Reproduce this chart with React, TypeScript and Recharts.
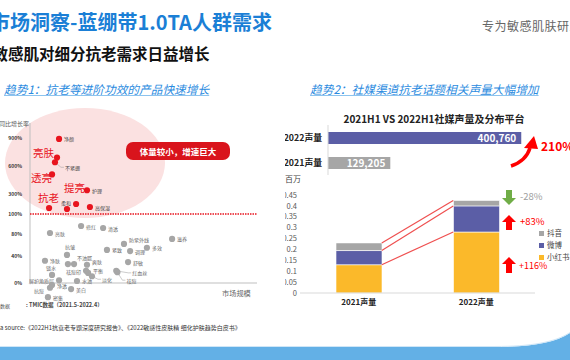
import React from 'react';
import {
  ScatterChart, Scatter, XAxis, YAxis, ReferenceLine,
  BarChart, Bar, LabelList, Cell, Legend,
} from 'recharts';

const FONT = '"Noto Sans CJK SC", "Noto Sans", sans-serif';

// ---------- Scatter: market size index vs YoY growth (%) ----------
const redNames = ['净颜', '亮肤', '不紧绷', '透亮', '护理', '抗老', '柔和', '', '高保湿'];
const redSize = [12.8, 11.9, 11.0, 9.7, 25.1, 8.4, 20.3, 16.3, 26.4];
const redGrowth = [890, 690, 640, 510, 340, 160, 200, 150, 170];

const grayNames = ['修红', '清透', '亮肤', '防紫外线', '滋养', '紧致', '调理', '多效', '抗皱', '不油腻', '', '净肤', '爽肤', '舒敏', '锁水', '祛痘印', '平衡', '淡化', '红血丝', '祛痘', '屏护角质层', '水油', '抗痘', '净透', '美白', '密集'];
const graySize = [22.5, 32.2, 8.8, 41.4, 62.6, 33.9, 44.1, 51.5, 16.3, 19.4, 16.7, 6.6, 25.1, 43.2, 9.7, 24.7, 25.6, 27.3, 38.0, 38.5, 12.8, 20.7, 8.8, 9.7, 18.1, 7.9];
const grayGrowth = [88, 86, 81, 62, 71, 51, 49, 55, 42, 28, 28, 33, 27, 31, 12, 18, 15, 10, 18, 16, 4, 3, -7, -3, -9, -21];

// broken growth axis: tick labels and their axis units
const growthTicks = [0, 40, 80, 100, 300, 600, 900];
const growthUnits = [0, 27, 49, 69, 89, 117, 145];

// ---------- Social media volume ----------
const volCats = ['2022声量', '2021声量'];
const volValues = [400760, 129205];
const volColors = ['#5b5ea6', '#a6a6a6'];

// ---------- Platform distribution (millions) ----------
const platCats = ['2021声量', '2022声量'];
const xhsVals = [0.13, 0.28];
const wbVals = [0.065, 0.12];
const dyVals = [0.035, 0.025];
const platTicks = [0, 0.05, 0.1, 0.15, 0.2, 0.25, 0.3, 0.35, 0.4, 0.45];

function toAxis(v: number): number {
  if (v <= 0) return (v / 40) * 27;
  for (let i = 1; i < growthTicks.length; i++) {
    if (v <= growthTicks[i]) {
      const t = (v - growthTicks[i - 1]) / (growthTicks[i] - growthTicks[i - 1]);
      return growthUnits[i - 1] + t * (growthUnits[i] - growthUnits[i - 1]);
    }
  }
  return growthUnits[growthUnits.length - 1];
}

const redData = redNames.map((n, i) => ({ name: n, x: redSize[i], g: redGrowth[i], ya: toAxis(redGrowth[i]) }));
const grayData = grayNames.map((n, i) => ({ name: n, x: graySize[i], g: grayGrowth[i], ya: toAxis(grayGrowth[i]) }));

const volData = volCats.map((c, i) => ({ cat: c, v: volValues[i] }));
const stackData = platCats.map((c, i) => ({ idx: i, cat: c, xhs: xhsVals[i], wb: wbVals[i], dy: dyVals[i] }));

const LBL: Record<string, { dx: number; dy: number; anchor?: string; lead?: boolean }> = {
  '不紧绷': { dx: 10, dy: 5, lead: true },
  '柔和': { dx: -5, dy: -2, anchor: 'end' },
  '防紫外线': { dx: 5, dy: -4 },
  '抗皱': { dx: -2, dy: -8 },
  '不油腻': { dx: 3, dy: -7 },
  '爽肤': { dx: 5, dy: -3 },
  '锁水': { dx: -6, dy: -7 },
  '祛痘印': { dx: -5, dy: 1, anchor: 'end' },
  '平衡': { dx: 5, dy: -2 },
  '淡化': { dx: 10, dy: 3, lead: true },
  '红血丝': { dx: 16, dy: 2, lead: true },
  '祛痘': { dx: 9, dy: 8, lead: true },
  '屏护角质层': { dx: -5, dy: 0, anchor: 'end' },
  '抗痘': { dx: -6, dy: 3, anchor: 'end' },
};
const BIG = new Set(['亮肤', '透亮', '抗老']);

const makeShape = (color: string, isRed: boolean) => (props: any) => {
  const { cx, cy, payload } = props;
  const name: string = payload.name;
  const p = LBL[name] || { dx: 5, dy: 0 };
  const showLabel = name && !(isRed && BIG.has(name));
  return (
    <g>
      {p.lead && showLabel && (
        <polyline points={`${cx},${cy} ${cx + p.dx - 4},${cy + p.dy} ${cx + p.dx - 1},${cy + p.dy}`} fill="none" stroke="#999" strokeWidth={0.5} />
      )}
      <circle cx={cx} cy={cy} r={3.1} fill={color} />
      {showLabel && (
        <text x={cx + p.dx} y={cy + p.dy} fontSize={5} fill={isRed ? '#444' : '#666'} textAnchor={(p.anchor as any) || 'start'} dominantBaseline="central">
          {name}
        </text>
      )}
    </g>
  );
};

function T(props: { x: number; cy: number; fs: number; children: any; style?: React.CSSProperties; w?: number; center?: boolean }) {
  const { x, cy, fs, children, style, w, center } = props;
  return (
    <div style={{
      position: 'absolute', left: x, top: cy - fs * 0.56, fontSize: fs, lineHeight: `${fs}px`,
      whiteSpace: 'nowrap', width: w, textAlign: center ? 'center' : 'left', ...style,
    }}>{children}</div>
  );
}

const half = 23 / 117.5;
const cum = (i: number) => [xhsVals[i], xhsVals[i] + wbVals[i], xhsVals[i] + wbVals[i] + dyVals[i]];
const c0 = cum(0);
const c1 = cum(1);

const legendItems = [
  { name: '抖音', color: '#a6a6a6' },
  { name: '微博', color: '#5b5ea6' },
  { name: '小红书', color: '#fbb92a' },
];

export default function App() {
  return (
    <div style={{ position: 'absolute', left: 0, top: 0, width: 570, height: 360, overflow: 'hidden', background: '#fff', fontFamily: FONT }}>
      {/* back decorations */}
      <svg width={570} height={360} style={{ position: 'absolute', left: 0, top: 0 }}>
        <ellipse cx={85} cy={163} rx={80} ry={55} fill="#fbe1e1" />
        <path d="M0 347 L495 347 C530 347 555 343 570 333 L570 360 L0 360 Z" fill="#63b0e6" />
        <path d="M0 346.5 L495 346.5 C530 346.5 555 342.5 570 332.5" fill="none" stroke="#cfe6f7" strokeWidth={1} />
      </svg>

      {/* texts */}
      <T x={-10} cy={23.5} fs={20} style={{ color: '#1b7fd6', fontWeight: 700 }}>市场洞察-蓝绷带1.0TA人群需求</T>
      <T x={-7.5} cy={54.5} fs={15.5} style={{ color: '#111', fontWeight: 700 }}>敏感肌对细分抗老需求日益增长</T>
      <T x={482} cy={27} fs={12} style={{ color: '#666', letterSpacing: 0.5 }}>专为敏感肌肤研发</T>
      <T x={4} cy={90} fs={11.7} style={{ color: '#2b8be0', fontStyle: 'italic', textDecoration: 'underline', textDecorationColor: '#8cc3ee' }}>趋势1：抗老等进阶功效的产品快速增长</T>
      <T x={310} cy={90} fs={11.7} style={{ color: '#2b8be0', fontStyle: 'italic', textDecoration: 'underline', textDecorationColor: '#8cc3ee' }}>趋势2：社媒渠道抗老话题相关声量大幅增加</T>

      <T x={-1} cy={124} fs={6} style={{ color: '#555' }}>同比增长率</T>
      <T x={222} cy={294} fs={7.2} style={{ color: '#666' }}>市场规模</T>
      <T x={0} cy={306} fs={5} style={{ color: '#555' }}>数据</T>
      <T x={26} cy={306} fs={5.5} style={{ color: '#444', fontWeight: 700 }}>: TMIC数据（2021.5-2022.4）</T>
      <T x={0} cy={328} fs={6} style={{ color: '#333' }}>a source:《2022H1抗衰老专题深度研究报告》、《2022敏感性皮肤精 细化护肤趋势白皮书》</T>

      {/* scatter chart */}
      <div style={{ position: 'absolute', left: 0, top: 100 }}>
        <ScatterChart width={270} height={220} margin={{ top: 18, right: 13, bottom: 12, left: 0 }}>
          <XAxis type="number" dataKey="x" domain={[0, 100]} hide />
          <YAxis
            type="number" dataKey="ya" domain={[-25, 165]} ticks={growthUnits} interval={0}
            tickFormatter={(v: number) => `${growthTicks[growthUnits.indexOf(v)]}%`}
            width={30} axisLine={false} tickLine={false} tickSize={0} tickMargin={8}
            tick={{ fontSize: 5, fill: '#333', fontWeight: 700 }} allowDataOverflow
          />
          <ReferenceLine segment={[{ x: 0, y: 0 }, { x: 0, y: 160 }]} stroke="#bfbfbf" strokeWidth={1} />
          <ReferenceLine segment={[{ x: 0, y: 0 }, { x: 100, y: 0 }]} stroke="#bfbfbf" strokeWidth={1} />
          <ReferenceLine y={toAxis(100)} stroke="#e8141e" strokeDasharray="1.5 1" strokeWidth={1.5} />
          <Scatter data={grayData} shape={makeShape('#a6a6a6', false)} isAnimationActive={false} />
          <Scatter data={redData} shape={makeShape('#e8141e', true)} isAnimationActive={false} />
        </ScatterChart>
      </div>

      {/* big annotation labels */}
      <T x={33} cy={154} fs={10.5} style={{ color: '#e8141e' }}>亮肤</T>
      <T x={31} cy={179} fs={10.5} style={{ color: '#e8141e' }}>透亮</T>
      <T x={64} cy={189} fs={10.5} style={{ color: '#e8141e' }}>提亮</T>
      <T x={38} cy={199} fs={10.5} style={{ color: '#e8141e' }}>抗老</T>
      <div style={{ position: 'absolute', left: 126, top: 142, width: 104, height: 18, borderRadius: 7, background: '#d9141c', color: '#fff', fontWeight: 700, fontSize: 8.5, lineHeight: '18px', textAlign: 'center' }}>体量较小，增速巨大</div>

      {/* right title */}
      <T x={334} cy={120} fs={10} w={200} center style={{ color: '#222', fontWeight: 700 }}>2021H1 VS 2022H1社媒声量及分布平台</T>

      {/* volume bars */}
      <div style={{ position: 'absolute', left: 285, top: 125 }}>
        <BarChart layout="vertical" width={260} height={50} data={volData} margin={{ top: 0, right: 0, bottom: 0, left: 0 }}>
          <XAxis type="number" domain={[0, 450000]} hide />
          <YAxis type="category" dataKey="cat" width={43} axisLine={{ stroke: '#d9d9d9' }} tickLine={false} tickSize={0} tickMargin={6} tick={{ fontSize: 8.8, fontWeight: 700, fill: '#222' }} />
          <Bar dataKey="v" barSize={12} isAnimationActive={false}>
            {volData.map((d, i) => <Cell key={d.cat} fill={volColors[i]} />)}
            <LabelList dataKey="v" position="insideRight" fill="#fff" fontSize={10} fontWeight={700} formatter={(v: any) => Number(v).toLocaleString('en-US')} />
          </Bar>
        </BarChart>
      </div>
      <T x={285} cy={179} fs={8} style={{ color: '#444' }}>百万</T>

      {/* stacked platform bars */}
      <div style={{ position: 'absolute', left: 285, top: 185 }}>
        <BarChart width={250} height={128} data={stackData} margin={{ top: 10, right: 0, bottom: 0, left: 0 }}>
          <XAxis type="number" dataKey="idx" domain={[-0.5, 1.5]} ticks={[0, 1]} interval={0}
            tickFormatter={(v: number) => platCats[v]} axisLine={{ stroke: '#d9d9d9' }} tickLine={false}
            tickSize={0} tickMargin={6} height={20} tick={{ fontSize: 8, fontWeight: 700, fill: '#222' }} />
          <YAxis type="number" domain={[0, 0.45]} ticks={platTicks} interval={0} width={15}
            axisLine={false} tickLine={false} tickSize={0} tickMargin={3} tick={{ fontSize: 7.5, fill: '#595959' }} />
          <Bar dataKey="xhs" name="小红书" stackId="a" fill="#fbb92a" stroke="#fff" strokeWidth={0.6} barSize={46} isAnimationActive={false} />
          <Bar dataKey="wb" name="微博" stackId="a" fill="#5b5ea6" stroke="#fff" strokeWidth={0.6} barSize={46} isAnimationActive={false} />
          <Bar dataKey="dy" name="抖音" stackId="a" fill="#a6a6a6" stroke="#fff" strokeWidth={0.6} barSize={46} isAnimationActive={false} />
          {c0.map((v, k) => (
            <ReferenceLine key={k} segment={[{ x: half, y: v }, { x: 1 - half, y: c1[k] }]} stroke="#ef5050" strokeWidth={1.2} />
          ))}
          <Legend layout="vertical" align="center" verticalAlign="middle"
            wrapperStyle={{ left: 254, top: 42, width: 40 }}
            content={() => (
              <div>
                {legendItems.map((it) => (
                  <div key={it.name} style={{ height: 12, display: 'flex', alignItems: 'center', fontSize: 7.5, color: '#444', lineHeight: '12px' }}>
                    <span style={{ display: 'inline-block', width: 5, height: 5, background: it.color, marginRight: 3 }} />
                    {it.name}
                  </div>
                ))}
              </div>
            )}
          />
        </BarChart>
      </div>

      {/* front decorations: arrows */}
      <svg width={570} height={360} style={{ position: 'absolute', left: 0, top: 0, pointerEvents: 'none' }}>
        <path d="M511 166 Q526 161 530 148" fill="none" stroke="#ff0000" strokeWidth={3.5} />
        <polygon points="524,148 538,149 534,136" fill="#ff0000" />
        <rect x={506} y={190} width={6} height={8} fill="#70ad47" />
        <polygon points="502,198 516,198 509,205" fill="#70ad47" />
        <polygon points="502,222 516,222 509,215" fill="#ff0000" />
        <rect x={506} y={222} width={6} height={8} fill="#ff0000" />
        <polygon points="502,264 516,264 509,257" fill="#ff0000" />
        <rect x={506} y={264} width={6} height={9} fill="#ff0000" />
      </svg>
      <T x={541} cy={147} fs={12} style={{ color: '#ff0000', fontWeight: 700 }}>210%</T>
      <T x={520} cy={197} fs={9.5} style={{ color: '#a0a0a0' }}>-28%</T>
      <T x={520} cy={222} fs={9.5} style={{ color: '#ff0000' }}>+83%</T>
      <T x={519} cy={266} fs={9} style={{ color: '#ff0000' }}>+116%</T>
    </div>
  );
}
